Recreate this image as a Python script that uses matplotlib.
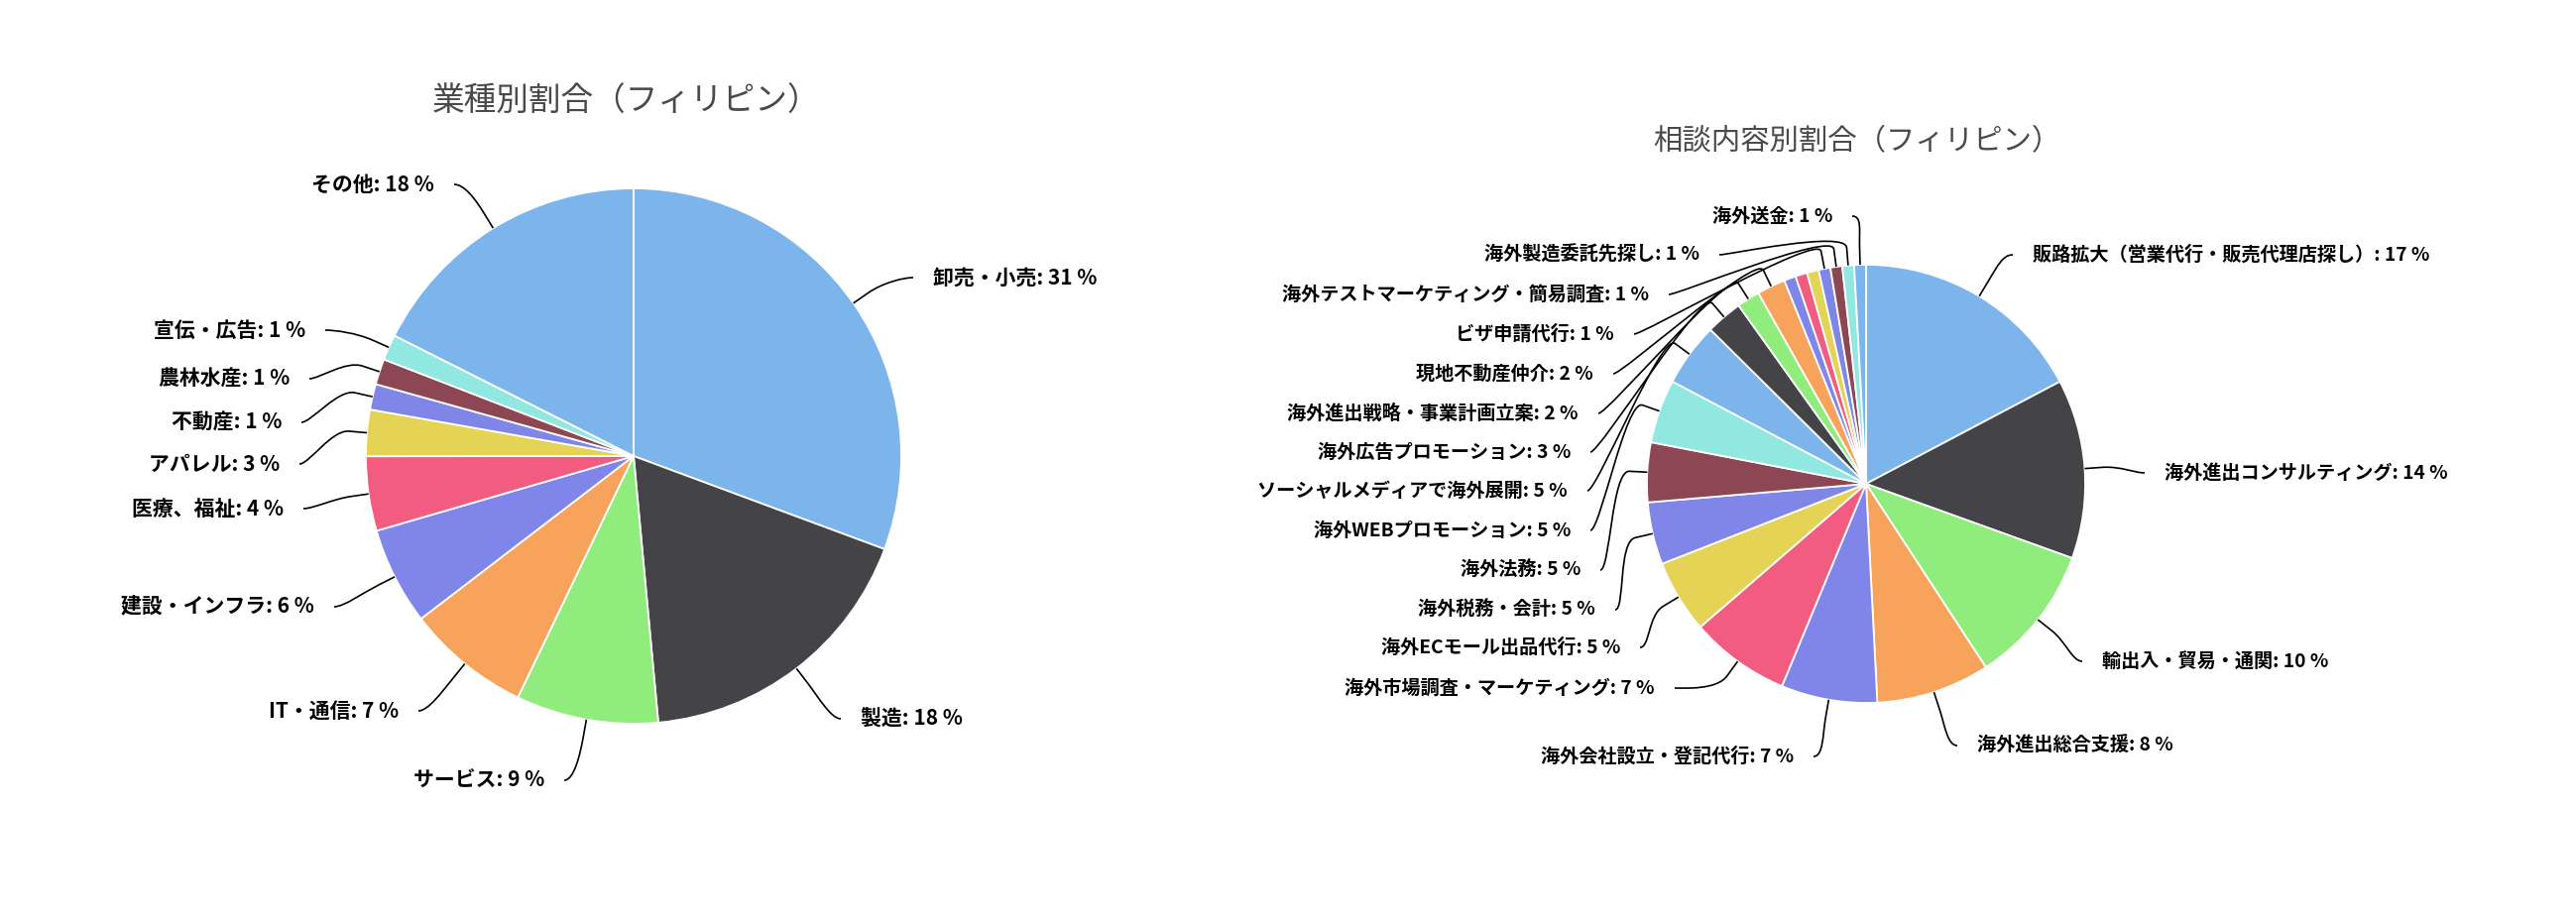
"""
Two pie charts (industry share / consultation topic share, Philippines),
Highcharts-like styling with outside labels and soft connectors.
"""
import numpy as np
import matplotlib.pyplot as plt
from matplotlib.path import Path
from matplotlib.patches import PathPatch

plt.rcParams['font.family'] = ['Noto Sans CJK JP', 'DejaVu Sans']

# Highcharts 4.0 default palette
PALETTE = ['#7cb5ec', '#434348', '#90ed7d', '#f7a35c', '#8085e9',
           '#f15c80', '#e4d354', '#8085e8', '#8d4653', '#91e8e1']

# ---- left pie: industry share ----
ind_title = '業種別割合（フィリピン）'
ind_names = ['卸売・小売', '製造', 'サービス', 'IT・通信', '建設・インフラ',
             '医療、福祉', 'アパレル', '不動産', '農林水産', '宣伝・広告', 'その他']
ind_share = [30.7, 17.9, 8.6, 7.5, 5.9, 4.5, 2.8, 1.55, 1.55, 1.55, 17.6]
ind_pct = [31, 18, 9, 7, 6, 4, 3, 1, 1, 1, 18]

# ---- right pie: consultation topics (3 slices have no visible label) ----
topic_title = '相談内容別割合（フィリピン）'
topic_names = ['販路拡大（営業代行・販売代理店探し）', '海外進出コンサルティング',
               '輸出入・貿易・通関', '海外進出総合支援', '海外会社設立・登記代行',
               '海外市場調査・マーケティング', '海外ECモール出品代行', '海外税務・会計',
               '海外法務', '海外WEBプロモーション', 'ソーシャルメディアで海外展開',
               '海外広告プロモーション', '海外進出戦略・事業計画立案', '現地不動産仲介',
               None, None, None,
               'ビザ申請代行', '海外テストマーケティング・簡易調査',
               '海外製造委託先探し', '海外送金']
topic_share = [17.3, 13.25, 10.3, 8.4, 7.1, 7.4, 5.4, 4.6, 4.4, 4.7, 4.7,
               2.7, 1.7, 2.1, 0.87, 0.87, 0.87, 0.87, 0.87, 0.87, 0.87]
topic_pct = [17, 14, 10, 8, 7, 7, 5, 5, 5, 5, 5, 3, 2, 2,
             None, None, None, 1, 1, 1, 1]

# ---- layout (pixel coordinates, y down) ----
W, H = 2598, 932
ind_center, ind_radius = (639, 460), 270
topic_center, topic_radius = (1882, 488), 221
# label anchor: (x, y, side) -- 'L' labels end at x, 'R' labels start at x
ind_label_pos = [(941, 280, 'R'), (868, 725, 'R'), (549, 787, 'L'), (402, 717, 'L'),
                 (317, 612, 'L'), (286, 513, 'L'), (282, 468, 'L'), (284, 426, 'L'),
                 (292, 382, 'L'), (308, 333, 'L'), (438, 186, 'L')]
topic_label_pos = [(2050, 257, 'R'), (2183, 477, 'R'), (2120, 667, 'R'), (1994, 752, 'R'),
                   (1809, 763, 'L'), (1669, 694, 'L'), (1634, 653, 'L'), (1609, 615, 'L'),
                   (1594, 575, 'L'), (1584, 535, 'L'), (1581, 495, 'L'), (1584, 456, 'L'),
                   (1592, 417, 'L'), (1607, 377, 'L'), None, None, None,
                   (1628, 337, 'L'), (1663, 297, 'L'), (1714, 257, 'L'), (1848, 218, 'L')]


def draw_pie(ax, shares, names, pcts, center, radius, label_pos, fontsize):
    colors = [PALETTE[i % len(PALETTE)] for i in range(len(shares))]
    # y axis is inverted: start at -90 and go counterclock in data -> clockwise from top on screen
    wedges, _ = ax.pie(shares, colors=colors, center=center, radius=radius,
                       startangle=-90, counterclock=True, frame=True,
                       wedgeprops=dict(edgecolor='white', linewidth=1.3))
    cx, cy = center
    for w, name, pct, pos in zip(wedges, names, pcts, label_pos):
        if name is None:
            continue
        th = np.deg2rad((w.theta1 + w.theta2) / 2)
        u = np.array([np.cos(th), np.sin(th)])
        edge = np.array([cx, cy]) + radius * u
        brk = np.array([cx, cy]) + (radius + 18) * u
        x, y, side = pos
        sgn = 1 if side == 'L' else -1
        start = np.array([x + sgn * 20, y])
        c1 = start + np.array([sgn * 10, 0])
        c2 = brk + 18 * u
        verts = [start, c1, c2, brk, edge]
        codes = [Path.MOVETO, Path.CURVE4, Path.CURVE4, Path.CURVE4, Path.LINETO]
        ax.add_patch(PathPatch(Path(verts, codes), fc='none', ec='black', lw=1.2,
                               zorder=3))
        ax.text(x, y, f'{name}: {pct} %', ha='right' if side == 'L' else 'left',
                va='center', fontsize=fontsize, fontweight='bold', color='black')


fig = plt.figure(figsize=(W / 100, H / 100), dpi=100)
ax = fig.add_axes([0, 0, 1, 1])

draw_pie(ax, ind_share, ind_names, ind_pct, ind_center, ind_radius,
         ind_label_pos, 15)
draw_pie(ax, topic_share, topic_names, topic_pct, topic_center, topic_radius,
         topic_label_pos, 13.8)

ax.text(632, 103, ind_title, ha='center', va='center', fontsize=23.5, color='#4a4a4a')
ax.text(1873, 143, topic_title, ha='center', va='center', fontsize=21.2, color='#4a4a4a')

ax.set_xlim(0, W)
ax.set_ylim(H, 0)
ax.set_aspect('auto')
ax.axis('off')

fig.savefig('out.png', dpi=100, facecolor='white')
